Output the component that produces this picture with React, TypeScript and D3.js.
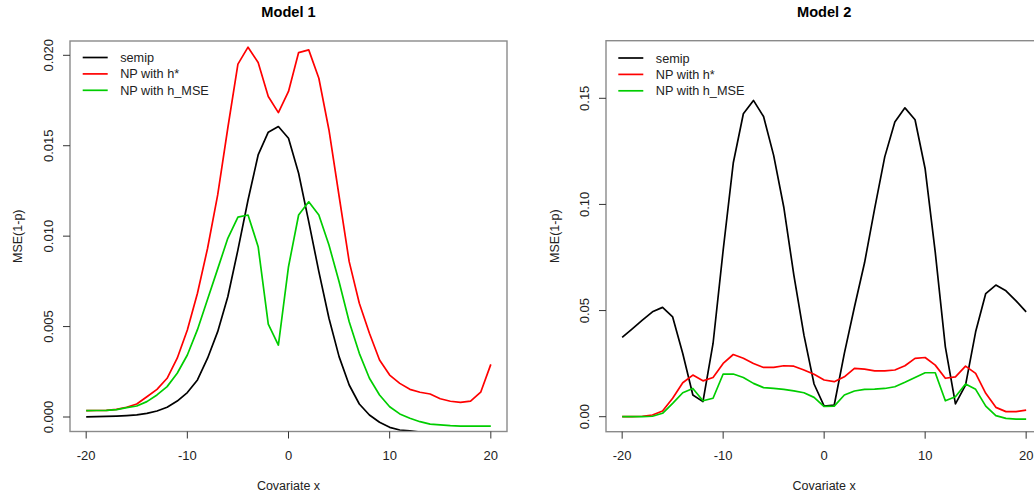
import React from 'react';
import * as d3 from 'd3';

const covariateX = [-20, -19, -18, -17, -16, -15, -14, -13, -12, -11, -10, -9, -8, -7, -6, -5, -4, -3, -2, -1, 0, 1, 2, 3, 4, 5, 6, 7, 8, 9, 10, 11, 12, 13, 14, 15, 16, 17, 18, 19, 20];

// Model 1
const m1Semip = [0.00001, 0.00002, 0.00003, 0.00005, 0.00008, 0.00012, 0.0002, 0.00033, 0.00054, 0.00088, 0.00135, 0.00205, 0.00325, 0.00472, 0.00665, 0.00924, 0.012, 0.01449, 0.01575, 0.01606, 0.01541, 0.01348, 0.0108, 0.00804, 0.00546, 0.00334, 0.00177, 0.00072, 0.00011, -0.00029, -0.00057, -0.00072, -0.00076, -0.00084, -0.00095, -0.001, -0.00104, -0.00107, -0.00109, -0.0011, -0.00111];
const m1NPhStar = [0.00035, 0.00036, 0.00037, 0.00042, 0.00054, 0.00072, 0.00112, 0.00153, 0.00214, 0.00325, 0.00481, 0.00684, 0.00933, 0.01228, 0.01598, 0.01951, 0.02045, 0.0196, 0.01772, 0.01683, 0.018, 0.02015, 0.0203, 0.01873, 0.01587, 0.01222, 0.00859, 0.00629, 0.00463, 0.00315, 0.00232, 0.00186, 0.00153, 0.00137, 0.00127, 0.00101, 0.00087, 0.00081, 0.00088, 0.00137, 0.00291];
const m1NPhMSE = [0.00035, 0.00036, 0.00037, 0.00041, 0.00052, 0.00061, 0.00085, 0.00122, 0.00168, 0.00242, 0.00343, 0.00483, 0.00651, 0.00819, 0.00988, 0.01105, 0.01117, 0.00942, 0.00514, 0.00398, 0.00831, 0.01117, 0.0119, 0.01117, 0.00951, 0.00748, 0.00527, 0.00352, 0.00214, 0.00122, 0.00057, 0.00017, -0.00007, -0.00026, -0.00039, -0.00044, -0.00048, -0.0005, -0.0005, -0.0005, -0.0005];

// Model 2
const m2Semip = [0.0374, 0.0414, 0.0455, 0.0494, 0.0515, 0.047, 0.0298, 0.0102, 0.0071, 0.0345, 0.0784, 0.1195, 0.1427, 0.149, 0.1414, 0.1231, 0.0988, 0.0667, 0.0384, 0.0154, 0.005, 0.0055, 0.0298, 0.0517, 0.0725, 0.098, 0.1224, 0.1388, 0.1455, 0.1399, 0.1168, 0.0775, 0.0329, 0.006, 0.0149, 0.04, 0.058, 0.062, 0.0593, 0.0546, 0.0494];
const m2NPhStar = [0, 0, 0.0002, 0.0008, 0.0027, 0.0087, 0.016, 0.0196, 0.0169, 0.0185, 0.0251, 0.0293, 0.0275, 0.0251, 0.0232, 0.0232, 0.024, 0.0238, 0.022, 0.02, 0.0173, 0.0165, 0.0188, 0.0228, 0.0224, 0.0216, 0.0216, 0.022, 0.024, 0.0275, 0.0279, 0.0243, 0.0181, 0.0188, 0.0238, 0.0204, 0.011, 0.0044, 0.0024, 0.0024, 0.0031];
const m2NPhMSE = [0, 0, 0, 0.0002, 0.0016, 0.0063, 0.0113, 0.0133, 0.0075, 0.0087, 0.0201, 0.0201, 0.0185, 0.0157, 0.0137, 0.0133, 0.0129, 0.0122, 0.0113, 0.0091, 0.0048, 0.005, 0.0102, 0.0121, 0.0129, 0.013, 0.0133, 0.0141, 0.0162, 0.0185, 0.0207, 0.0207, 0.0075, 0.0094, 0.0154, 0.0129, 0.005, 0.0005, -0.0008, -0.0011, -0.0011];

const xTicks = [-20, -10, 0, 10, 20];
const m1YTicks = [0, 0.005, 0.01, 0.015, 0.02];
const m1YTickLabels = ['0.000', '0.005', '0.010', '0.015', '0.020'];
const m2YTicks = [0, 0.05, 0.1, 0.15];
const m2YTickLabels = ['0.00', '0.05', '0.10', '0.15'];
const seriesNames = ['semip', 'NP with h*', 'NP with h_MSE'];
const seriesColors = ['#000000', '#ff0000', '#00cd00'];
const panelTitles = ['Model 1', 'Model 2'];
const xTitle = 'Covariate x';
const yTitle = 'MSE(1-p)';

const FONT = '"Liberation Sans", Arial, Helvetica, sans-serif';

const panels = [
  {
    title: panelTitles[0], left: 70, right: 507, top: 41, bottom: 431.5,
    yDomain: [0, 0.02], yRange: [417, 55.3],
    series: [m1Semip, m1NPhStar, m1NPhMSE], yTicks: m1YTicks, yTickLabels: m1YTickLabels,
    legendX: 82.7, legendY: 57.5, tickLabelX: 53, yTitleX: 22,
  },
  {
    title: panelTitles[1], left: 606, right: 1042.3, top: 40.7, bottom: 431.7,
    yDomain: [0, 0.15], yRange: [416.7, 98.3],
    series: [m2Semip, m2NPhStar, m2NPhMSE], yTicks: m2YTicks, yTickLabels: m2YTickLabels,
    legendX: 618.3, legendY: 58, tickLabelX: 589, yTitleX: 559,
  },
];

function Panel({ p, idx }: { p: any; idx: number }) {
  const x = d3.scaleLinear().domain([-21.6, 21.6]).range([p.left, p.right]);
  const y = d3.scaleLinear().domain(p.yDomain).range(p.yRange);
  const line = d3.line<number>().x((_, i) => x(covariateX[i])).y((d) => y(d));
  const clipId = `clip-${idx}`;
  const cxTitle = x(0);
  return (
    <g>
      <defs>
        <clipPath id={clipId}>
          <rect x={p.left} y={p.top} width={p.right - p.left} height={p.bottom - p.top} />
        </clipPath>
      </defs>
      <text x={cxTitle} y={17} textAnchor="middle" fontWeight="bold" fontSize={14.6} fontFamily={FONT} fill="#000">{p.title}</text>
      <g clipPath={`url(#${clipId})`}>
        {p.series.map((s: number[], i: number) => (
          <path key={i} d={line(s) || ''} fill="none" stroke={seriesColors[i]} strokeWidth={1.7} strokeLinejoin="round" />
        ))}
      </g>
      <rect x={p.left} y={p.top} width={p.right - p.left} height={p.bottom - p.top} fill="none" stroke="#8a8a8a" strokeWidth={1.4} />
      {xTicks.map((t) => (
        <g key={t}>
          <line x1={x(t)} x2={x(t)} y1={p.bottom} y2={p.bottom + 7} stroke="#333" strokeWidth={1} />
          <text x={x(t)} y={460} textAnchor="middle" fontSize={13} fontFamily={FONT} fill="#222">{t}</text>
        </g>
      ))}
      {p.yTicks.map((t: number, i: number) => (
        <g key={t}>
          <line x1={p.left - 7} x2={p.left} y1={y(t)} y2={y(t)} stroke="#333" strokeWidth={1} />
          <text transform={`translate(${p.tickLabelX},${y(t)}) rotate(-90)`} textAnchor="middle" fontSize={13} fontFamily={FONT} fill="#222">{p.yTickLabels[i]}</text>
        </g>
      ))}
      <text x={cxTitle} y={490} textAnchor="middle" fontSize={12.5} fontFamily={FONT} fill="#222">{xTitle}</text>
      <text transform={`translate(${p.yTitleX},${(p.top + p.bottom) / 2}) rotate(-90)`} textAnchor="middle" fontSize={12.5} fontFamily={FONT} fill="#222">{yTitle}</text>
      {seriesNames.map((n, i) => {
        const ly = p.legendY + i * 16.4;
        return (
          <g key={n}>
            <line x1={p.legendX} x2={p.legendX + 25} y1={ly} y2={ly} stroke={seriesColors[i]} strokeWidth={1.7} />
            <text x={p.legendX + 37.5} y={ly + 4.5} fontSize={12.7} fontFamily={FONT} fill="#222">{n}</text>
          </g>
        );
      })}
    </g>
  );
}

export default function App() {
  return (
    <svg width={1034} height={497} style={{ position: 'absolute', left: 0, top: 0, background: '#fff' }}>
      <rect x={0} y={0} width={1034} height={497} fill="#fff" />
      {panels.map((p, i) => (
        <Panel key={i} p={p} idx={i} />
      ))}
    </svg>
  );
}
